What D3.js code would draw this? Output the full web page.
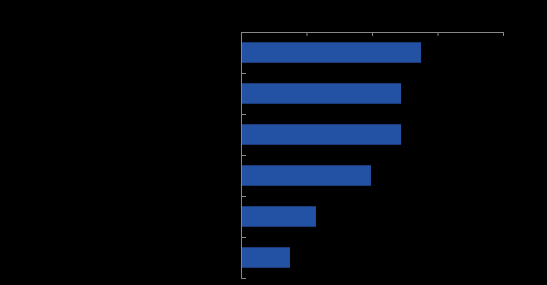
<!DOCTYPE html>
<html>
<head>
<meta charset="utf-8">
<script src="https://cdn.jsdelivr.net/npm/d3@7"></script>
<style>
html, body { margin: 0; padding: 0; background: #000; }
svg { display: block; }
</style>
</head>
<body>
<div id="chart"></div>
<script>
// data
var categories = ["A", "B", "C", "D", "E", "F"];
var values = [68.7, 61.1, 61.1, 49.6, 28.6, 18.7];
var xTicks = [0, 25, 50, 75, 100];

var width = 547,
    height = 285,
    plotLeft = 241, plotRight = 503,
    plotTop = 32, plotBottom = 278;

var svg = d3.select("#chart").append("svg")
  .attr("width", width)
  .attr("height", height)
  .style("background", "#000");

var x = d3.scaleLinear().domain([0, 100]).range([plotLeft, plotRight]);

var y = d3.scaleBand()
  .domain(categories)
  .range([plotTop, plotBottom])
  .paddingInner(0.5)
  .paddingOuter(0.25);

// boundaries between categories, for the left ticks
var yEdge = d3.scaleLinear().domain([0, categories.length]).range([plotTop, plotBottom]);

svg.selectAll("rect.bar")
  .data(values)
  .enter().append("rect")
  .attr("class", "bar")
  .attr("x", x(0))
  .attr("y", function(d, i) { return y(categories[i]); })
  .attr("width", function(d) { return x(d) - x(0); })
  .attr("height", y.bandwidth())
  .attr("fill", "#2351a3");

var xAxis = svg.append("g")
  .attr("transform", "translate(0," + plotTop + ")")
  .call(d3.axisTop(x).tickValues(xTicks).tickSize(-4).tickFormat(""));

var yAxis = svg.append("g")
  .attr("transform", "translate(" + plotLeft + ",0)")
  .call(d3.axisLeft(yEdge).tickValues(d3.range(1, categories.length)).tickSize(-5).tickFormat(""));

[xAxis, yAxis].forEach(function(g) {
  g.select(".domain").attr("stroke", "#888");
  g.selectAll(".tick line").attr("stroke", "#888");
});
</script>
</body>
</html>
